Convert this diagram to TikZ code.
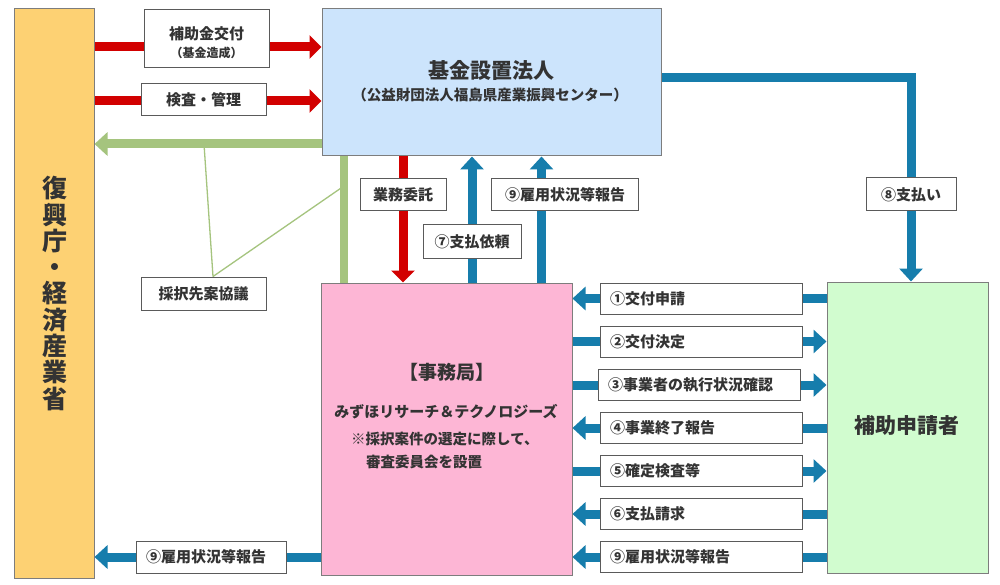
\documentclass[tikz,border=0pt]{standalone}
\usepackage{fontspec}
\setmainfont{Noto Sans CJK JP}
\usetikzlibrary{arrows.meta}
\pgfdeclarelayer{bg}
\pgfsetlayers{bg,main}
\definecolor{arred}{RGB}{210,0,0}
\definecolor{arblue}{RGB}{22,125,172}
\definecolor{argreen}{RGB}{165,196,126}
\definecolor{fukkofill}{RGB}{253,209,115}
\definecolor{kikinfill}{RGB}{204,228,252}
\definecolor{jimfill}{RGB}{253,182,213}
\definecolor{shinfill}{RGB}{209,252,207}
\definecolor{boxline}{RGB}{125,125,125}
\definecolor{labline}{RGB}{90,90,90}
\definecolor{txt}{RGB}{51,51,51}
\begin{document}
\begin{tikzpicture}[x=1pt,y=-1pt,
  mainbox/.style={draw=boxline, line width=1pt, inner sep=0pt},
  lab/.style={draw=labline, fill=white, line width=1pt, inner sep=0pt, text=txt,
    font=\bfseries\fontsize{15}{18}\selectfont, align=center},
  rlab/.style={lab, minimum width=202pt, minimum height=31pt, inner xsep=10pt,
    text width=182pt, align=left},
  txtnode/.style={inner sep=0pt, text=txt},
  redarr/.style={draw=arred, line width=9pt, -{Triangle[width=23pt,length=12pt]}},
  bluearr/.style={draw=arblue, line width=9pt, -{Triangle[width=23pt,length=13pt]}},
  greenarr/.style={draw=argreen, line width=9pt, -{Triangle[width=23pt,length=13pt]}},
  greenbar/.style={draw=argreen, line width=8pt},
  thingreen/.style={draw=argreen, line width=1.3pt}]
\useasboundingbox (0,0) rectangle (1000,585);

% main boxes
\node[mainbox, fill=fukkofill, minimum width=80pt, minimum height=569pt] (fukko) at (54,293.5) {};
\node[mainbox, fill=kikinfill, minimum width=339pt, minimum height=147pt] (kikin) at (491.5,82.5) {};
\node[mainbox, fill=jimfill, minimum width=251pt, minimum height=292pt] (jim) at (446.5,429) {};
\node[mainbox, fill=shinfill, minimum width=161pt, minimum height=291pt] (shin) at (907.5,427.5) {};

% texts in main boxes
\node[txtnode, font=\bfseries\fontsize{25}{26.3}\selectfont, align=center] (fukkoT) at (54.5,293.5)
  {復\\興\\庁\\・\\経\\済\\産\\業\\省};
\node[txtnode, font=\bfseries\fontsize{21}{24}\selectfont] (kikinT1) at (491.5,70) {基金設置法人};
\node[txtnode, font=\bfseries\fontsize{14.5}{17}\selectfont] (kikinT2) at (490,95) {（公益財団法人福島県産業振興センター）};
\node[txtnode, font=\bfseries\fontsize{19}{22}\selectfont] (jimT1) at (447,372) {【事務局】};
\node[txtnode, font=\bfseries\fontsize{15}{18}\selectfont] (jimT2) at (446,411.5) {みずほリサーチ＆テクノロジーズ};
\node[txtnode, font=\bfseries\fontsize{14.5}{17}\selectfont, anchor=west] (jimT3) at (351,439) {※採択案件の選定に際して、};
\node[txtnode, font=\bfseries\fontsize{14.5}{17}\selectfont, anchor=west] (jimT4) at (366,462) {審査委員会を設置};
\node[txtnode, font=\bfseries\fontsize{21}{24}\selectfont] (shinT) at (907,426) {補助申請者};

% label boxes
\node[lab, minimum width=125pt, minimum height=58pt] (lHojo) at (206.5,39) {};
\node[txtnode, font=\bfseries\fontsize{15}{18}\selectfont, align=center] (lHojoT) at (206.5,42.5)
  {補助金交付\\[0pt]{\fontsize{12}{14}\selectfont （基金造成）}};
\node[lab, minimum width=125pt, minimum height=32pt] (lKensa) at (203.5,100) {検査・管理};
\node[lab, minimum width=125pt, minimum height=33pt] (lSaitaku) at (203.5,293.5) {採択先案協議};
\node[lab, minimum width=86pt, minimum height=32pt] (lGyomu) at (403,195) {業務委託};
\node[lab, minimum width=98pt, minimum height=33pt] (lShiIrai) at (472,241.5) {⑦支払依頼};
\node[lab, minimum width=147pt, minimum height=32pt] (lKoyoU) at (565,195) {⑨雇用状況等報告};
\node[lab, minimum width=90pt, minimum height=33pt] (lShiharai) at (911,194.5) {⑧支払い};
\node[rlab] (r1) at (701,298.5) {①交付申請};
\node[rlab] (r2) at (701,341.5) {②交付決定};
\node[rlab] (r3) at (699,385) {③事業者の執行状況確認};
\node[rlab] (r4) at (701,428) {④事業終了報告};
\node[rlab] (r5) at (701,471) {⑤確定検査等};
\node[rlab] (r6) at (701,514) {⑥支払請求};
\node[rlab] (r7) at (701,557) {⑨雇用状況等報告};
\node[lab, minimum width=150pt, minimum height=32pt, inner xsep=10pt, text width=130pt, align=left] (lKoyoB) at (211,557) {⑨雇用状況等報告};

% helper coordinates
\coordinate (yR1) at (0,47);
\coordinate (yR2) at (0,101);
\coordinate (yG) at (0,144);
\coordinate (xG) at (344,0);
\coordinate (xR) at (403,0);
\coordinate (x7) at (472,0);
\coordinate (x9) at (541.5,0);
\coordinate (p8) at (911,78);
\coordinate (tA) at (204,144);
\coordinate (tB) at (344,186);

\begin{pgfonlayer}{bg}
\fill[white] (0,0) rectangle (1000,585);
\draw[redarr] (fukko.east |- yR1) -- (kikin.west |- yR1);
\draw[redarr] (fukko.east |- yR2) -- (kikin.west |- yR2);
\draw[greenarr] (kikin.west |- yG) -- (fukko.east |- yG);
\draw[greenbar] (kikin.south -| xG) -- (jim.north -| xG);
\draw[thingreen] (tA) -- ([xshift=9.5pt]lSaitaku.north);
\draw[thingreen] (tB) -- ([xshift=9.5pt]lSaitaku.north);
\draw[redarr] (kikin.south -| xR) -- (jim.north -| xR);
\draw[bluearr] (jim.north -| x7) -- (kikin.south -| x7);
\draw[bluearr] (jim.north -| x9) -- (kikin.south -| x9);
\draw[bluearr, line join=miter] (kikin.east |- p8) -- (p8) -- (p8 |- shin.north);
\draw[bluearr] (shin.west |- r1) -- (jim.east |- r1);
\draw[bluearr] (jim.east |- r2) -- (shin.west |- r2);
\draw[bluearr] (jim.east |- r3) -- (shin.west |- r3);
\draw[bluearr] (shin.west |- r4) -- (jim.east |- r4);
\draw[bluearr] (jim.east |- r5) -- (shin.west |- r5);
\draw[bluearr] (shin.west |- r6) -- (jim.east |- r6);
\draw[bluearr] (shin.west |- r7) -- (jim.east |- r7);
\draw[bluearr] (jim.west |- lKoyoB) -- (fukko.east |- lKoyoB);
\end{pgfonlayer}
\end{tikzpicture}
\end{document}
